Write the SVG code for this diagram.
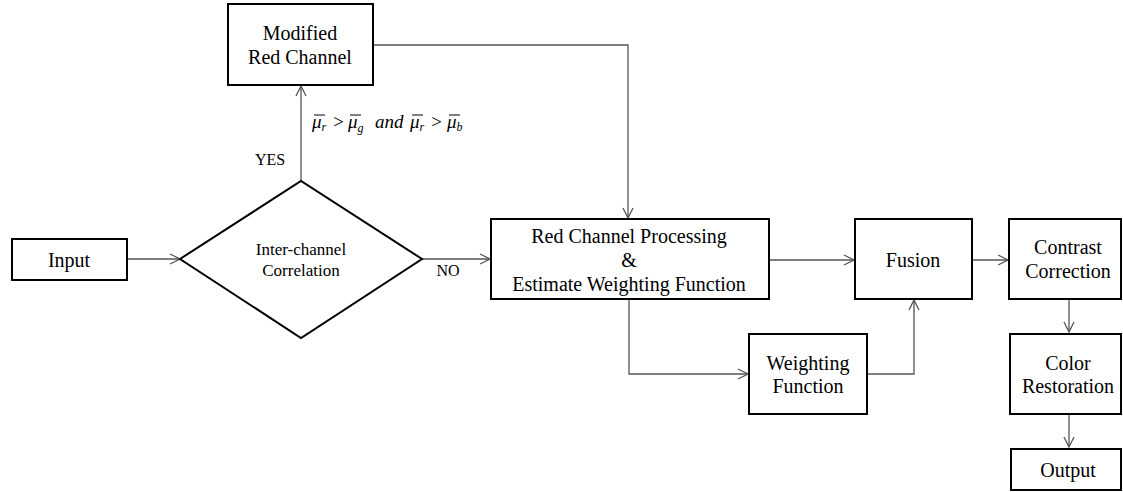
<svg xmlns="http://www.w3.org/2000/svg" width="1123" height="492" viewBox="0 0 1123 492">
<style>
.box{fill:#fff;stroke:#000;stroke-width:2}
.t{font-family:'Liberation Serif','Times New Roman','DejaVu Serif',serif;font-size:20px;fill:#000;text-anchor:middle}
.s{font-family:'Liberation Serif','Times New Roman','DejaVu Serif',serif;font-size:16px;fill:#000;text-anchor:middle}
.m{font-family:'Liberation Serif','Times New Roman','DejaVu Serif',serif;font-size:19px;font-style:italic;fill:#000}
.c{fill:none;stroke:#555;stroke-width:1.3}
</style>
<defs>
<marker id="a" markerUnits="userSpaceOnUse" markerWidth="12" markerHeight="12" refX="11" refY="6" orient="auto">
<path d="M1,1 L11,6 L1,11" fill="none" stroke="#555" stroke-width="1.3"/>
</marker>
</defs>
<rect width="1123" height="492" fill="#fff"/>
<g id="connectors">
<path class="c" d="M127,259 H180" marker-end="url(#a)"/>
<path class="c" d="M301,181 V86" marker-end="url(#a)"/>
<path class="c" d="M422,259 H490" marker-end="url(#a)"/>
<path class="c" d="M373,45 H628 V218" marker-end="url(#a)"/>
<path class="c" d="M769,260 H854" marker-end="url(#a)"/>
<path class="c" d="M629,299 V374 H748" marker-end="url(#a)"/>
<path class="c" d="M867,374 H914 V300" marker-end="url(#a)"/>
<path class="c" d="M972,260 H1008" marker-end="url(#a)"/>
<path class="c" d="M1069,299 V332" marker-end="url(#a)"/>
<path class="c" d="M1069,414 V447" marker-end="url(#a)"/>
</g>
<g id="labels">
<text class="s" x="270" y="165">YES</text>
<text class="s" x="448" y="276">NO</text>
<g id="condition">
<text class="m" x="312" y="128">μ<tspan font-size="12" dy="3">r</tspan></text>
<text class="m" x="332" y="128" font-style="normal">&gt;</text>
<text class="m" x="348" y="128">μ<tspan font-size="12" dy="4">g</tspan></text>
<text class="m" x="375" y="128">and</text>
<text class="m" x="410" y="128">μ<tspan font-size="12" dy="3">r</tspan></text>
<text class="m" x="430" y="128" font-style="normal">&gt;</text>
<text class="m" x="447" y="128">μ<tspan font-size="12" dy="3">b</tspan></text>
<path d="M314,115 H325 M350,115 H361 M412,115 H423 M449,115 H460" stroke="#000" stroke-width="1"/>
</g>
</g>
<g id="input">
<rect class="box" x="12" y="239" width="115" height="41"/>
<text class="t" x="69" y="267">Input</text>
</g>
<g id="decision">
<polygon class="box" points="180,259 301,181 422,259 301,338"/>
<text class="t" x="301" y="255" style="font-size:17px">Inter-channel</text>
<text class="t" x="301" y="276" style="font-size:17px">Correlation</text>
</g>
<g id="modified">
<rect class="box" x="228" y="4" width="145" height="81"/>
<text class="t" x="300" y="40">Modified</text>
<text class="t" x="300" y="64">Red Channel</text>
</g>
<g id="redproc">
<rect class="box" x="491" y="219" width="278" height="80"/>
<text class="t" x="629" y="243">Red Channel Processing</text>
<text class="t" x="629" y="267">&amp;</text>
<text class="t" x="629" y="291">Estimate  Weighting Function</text>
</g>
<g id="weighting">
<rect class="box" x="749" y="334" width="118" height="80"/>
<text class="t" x="808" y="370">Weighting</text>
<text class="t" x="808" y="393">Function</text>
</g>
<g id="fusion">
<rect class="box" x="855" y="219" width="117" height="80"/>
<text class="t" x="913" y="267">Fusion</text>
</g>
<g id="contrast">
<rect class="box" x="1009" y="219" width="112" height="80"/>
<text class="t" x="1068" y="254">Contrast</text>
<text class="t" x="1068" y="278">Correction</text>
</g>
<g id="color">
<rect class="box" x="1010" y="334" width="111" height="80"/>
<text class="t" x="1068" y="370">Color</text>
<text class="t" x="1068" y="393">Restoration</text>
</g>
<g id="output">
<rect class="box" x="1011" y="449" width="110" height="41"/>
<text class="t" x="1068" y="477">Output</text>
</g>
</svg>
